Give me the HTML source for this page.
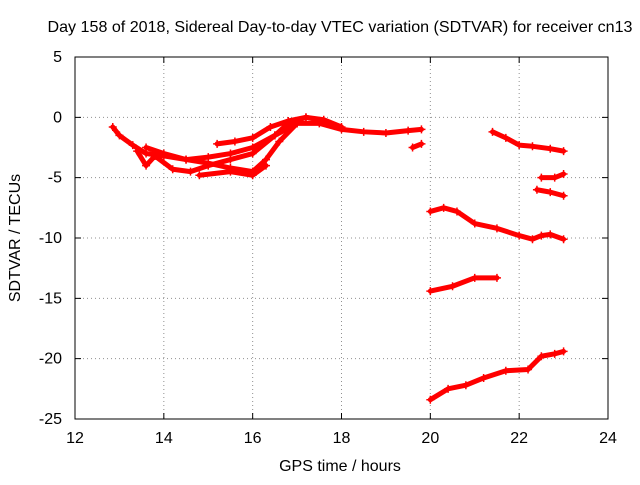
<!DOCTYPE html>
<html><head><meta charset="utf-8"><style>
body{margin:0;background:#fff}
svg text{font-family:"Liberation Sans",sans-serif;font-size:16px;fill:#000}
</style></head><body>
<svg id="chart" width="640" height="480">
<text x="340" y="32" text-anchor="middle" textLength="585" lengthAdjust="spacingAndGlyphs">Day 158 of 2018, Sidereal Day-to-day VTEC variation (SDTVAR) for receiver cn13</text>
<text x="340" y="471" text-anchor="middle">GPS time / hours</text>
<text transform="translate(20,238) rotate(-90)" text-anchor="middle">SDTVAR / TECUs</text>
<g id="grid"></g><g id="marks"></g>
<rect x="75" y="57" width="533" height="362" fill="none" stroke="#000"/>
</svg>
<script>
const xTicks=[12,14,16,18,20,22,24];
const yTicks=[5,0,-5,-10,-15,-20,-25];
const s1=[[12.85,-0.8],[13.0,-1.5],[13.3,-2.3],[13.6,-3],[14,-3.2],[14.5,-3.5],[15,-3.8],[15.5,-4.2],[16,-4.5],[16.3,-3.5],[16.6,-2],[17,-0.5],[17.5,-0.5],[18,-1],[18.5,-1.2],[19,-1.3],[19.5,-1.1],[19.8,-1]];
const s2=[[13.4,-2.8],[13.6,-4],[13.8,-3.2],[14.2,-4.3],[14.6,-4.5],[15,-4],[15.5,-3.5],[16,-3],[16.5,-1.5],[16.8,-0.5],[17.2,0],[17.6,-0.3]];
const s3=[[13.6,-2.5],[14,-3],[14.5,-3.5],[15,-3.3],[15.5,-3],[16,-2.5],[16.5,-1.5],[17,-0.5]];
const s4=[[15.2,-2.2],[15.6,-2],[16,-1.7],[16.4,-0.8],[16.8,-0.3],[17.2,0],[17.6,-0.2],[18,-0.8]];
const s5=[[14.8,-4.8],[15.5,-4.5],[16,-4.8],[16.3,-4]];
const s6=[[19.6,-2.5],[19.8,-2.2]];
const s7=[[21.4,-1.2],[21.7,-1.7],[22,-2.3],[22.3,-2.4],[22.7,-2.6],[23,-2.8]];
const s8=[[22.5,-5],[22.8,-5],[23,-4.7]];
const s9=[[22.4,-6],[22.7,-6.2],[23,-6.5]];
const s10=[[20,-7.8],[20.3,-7.5],[20.6,-7.8],[21,-8.8],[21.5,-9.2],[22,-9.8],[22.3,-10.1],[22.5,-9.8],[22.7,-9.7],[23,-10.1]];
const s11=[[20,-14.4],[20.5,-14],[21,-13.3],[21.5,-13.3]];
const s12=[[20,-23.4],[20.4,-22.5],[20.8,-22.2],[21.2,-21.6],[21.7,-21],[22.2,-20.9],[22.5,-19.8],[22.8,-19.6],[23,-19.4]];
const series=[s1,s2,s3,s4,s5,s6,s7,s8,s9,s10,s11,s12];
const NS="http://www.w3.org/2000/svg";
const xs=h=>75+(h-12)*(533/12);
const ys=v=>57+(5-v)*(362/30);
const grid=document.getElementById('grid'),marks=document.getElementById('marks');
function mk(t,a,p){const e=document.createElementNS(NS,t);for(const k in a)e.setAttribute(k,a[k]);p.appendChild(e);return e;}
xTicks.forEach(t=>{
 const x=xs(t);
 if(t>12&&t<24){const l=mk('line',{x1:x,x2:x,y1:57,y2:419,stroke:'#909090','stroke-dasharray':'1,3'},grid);
 
 }
 mk('path',{d:`M${x},419v-6M${x},57v6`,stroke:'#000'},grid);
 const tx=mk('text',{x:x,y:443,'text-anchor':'middle'},grid);tx.textContent=t;
 
 
});
yTicks.forEach(t=>{
 const y=ys(t);
 if(t<5&&t>-25){const l=mk('line',{x1:75,x2:608,y1:y,y2:y,stroke:'#909090','stroke-dasharray':'1,3'},grid);
 
 }
 mk('path',{d:`M75,${y}h6M608,${y}h-6`,stroke:'#000'},grid);
 const tx=mk('text',{x:62,y:y+5,'text-anchor':'end'},grid);tx.textContent=t;
 
 
});
series.forEach((s,i)=>{
 const pl=mk('polyline',{points:s.map(p=>xs(p[0])+','+ys(p[1])).join(' '),fill:'none',stroke:'#f00','stroke-width':5,'stroke-linejoin':'round','stroke-linecap':'round'},marks);
 
 
 s.forEach(p=>{const x=xs(p[0]),y=ys(p[1]);
  const m=mk('path',{d:`M${x-4},${y}H${x+4}M${x},${y-4}V${y+4}`,stroke:'#f00','stroke-width':1.5},marks);
  
  });
});
</script>
</body></html>
